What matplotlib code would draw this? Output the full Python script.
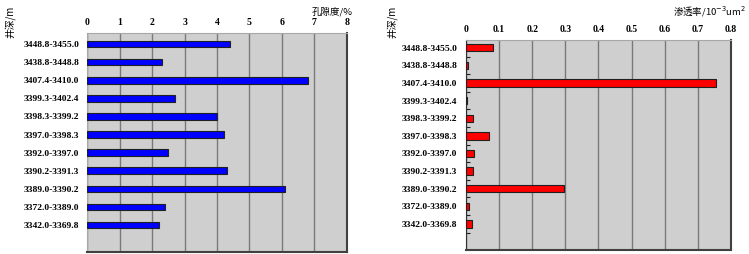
import matplotlib.pyplot as plt
import numpy as np

plt.rcParams['font.family'] = ['Liberation Serif', 'Noto Sans CJK SC']

# depth intervals, top to bottom
depths = ["3448.8-3455.0", "3438.8-3448.8", "3407.4-3410.0", "3399.3-3402.4",
          "3398.3-3399.2", "3397.0-3398.3", "3392.0-3397.0", "3390.2-3391.3",
          "3389.0-3390.2", "3372.0-3389.0", "3342.0-3369.8"]
porosity = [4.4, 2.3, 6.8, 2.7, 4.0, 4.2, 2.5, 4.3, 6.1, 2.4, 2.2]
permeability = [0.082, 0.006, 0.754, 0.002, 0.021, 0.071, 0.024, 0.021, 0.296, 0.010, 0.017]

bg = '#cfcfcf'
grid_c = '#7a7a7a'
cjk = ['Noto Sans CJK SC', 'DejaVu Sans']

fig = plt.figure(figsize=(7.49, 2.54), dpi=100)

ax1 = fig.add_axes([0.1168, 0.008, 0.346, 0.862])
ax2 = fig.add_axes([0.622, 0.016, 0.354, 0.827])

y = np.arange(len(depths))

# porosity panel
ax1.set_facecolor(bg)
ax1.barh(y, porosity, height=0.36, color='#0000ff', edgecolor='#202020', linewidth=0.8, zorder=3)
ax1.set_xlim(0, 8)
ax1.set_ylim(11.49, -0.61)
ax1.set_xticks(range(0, 9))

# permeability panel
ax2.set_facecolor(bg)
ax2.barh(y, permeability, height=0.42, color='#ff0000', edgecolor='#202020', linewidth=0.8, zorder=3)
ax2.set_xlim(0, 0.8)
ax2.set_ylim(11.48, -0.45)
ax2.set_xticks(np.arange(0, 0.81, 0.1))
ax2.set_xticklabels(['0', '0.1', '0.2', '0.3', '0.4', '0.5', '0.6', '0.7', '0.8'])
ax2.set_yticks(y + 0.5, minor=True)
ax2.tick_params(axis='y', which='minor', direction='in', length=3, width=0.8, color='#202020')

for ax in (ax1, ax2):
    ax.set_yticks(y)
    ax.set_yticklabels(depths, fontsize=6.8, fontweight='bold')
    ax.xaxis.tick_top()
    ax.tick_params(axis='x', length=0, labelsize=7, pad=4)
    ax.tick_params(axis='y', which='major', length=0, pad=6)
    for lab in ax.get_xticklabels():
        lab.set_fontweight('bold')
    ax.grid(axis='x', color=grid_c, linewidth=1.0, zorder=1)
    ax.set_axisbelow(True)
    ax.spines['top'].set_color('#a8a8a8')
    ax.spines['left'].set_color('#a8a8a8')
    ax.spines['right'].set_color('#404040')
    ax.spines['bottom'].set_color('#404040')
    ax.spines['right'].set_linewidth(1.5)
    ax.spines['bottom'].set_linewidth(1.5)

ax2.spines['left'].set_color('#303030')

fig.text(0.443, 0.955, '孔隙度/%', fontsize=6.8, family=cjk, ha='center', va='center')
fig.text(0.995, 0.958, '渗透率/10$^{-3}$um$^{2}$', fontsize=6.8, family=cjk, ha='right', va='center')
fig.text(0.013, 0.915, '井深/m', fontsize=7, family=cjk, rotation=90, ha='center', va='center')
fig.text(0.523, 0.915, '井深/m', fontsize=7, family=cjk, rotation=90, ha='center', va='center')

fig.savefig('out.png', dpi=100)
